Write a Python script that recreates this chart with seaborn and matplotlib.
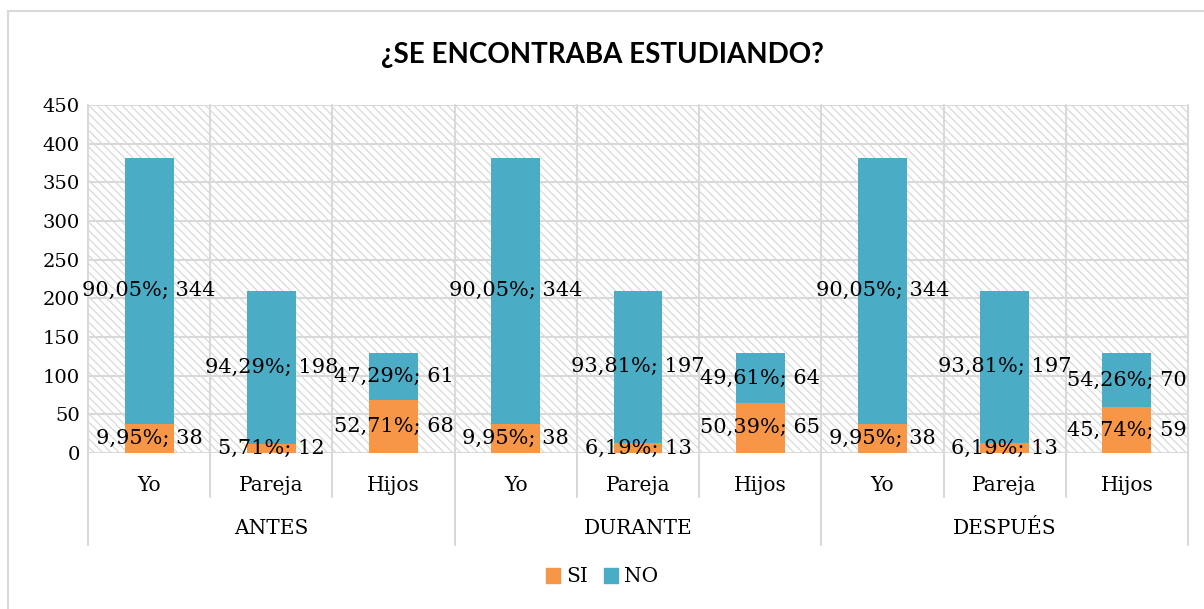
import matplotlib
matplotlib.use("Agg")
import matplotlib.pyplot as plt
import matplotlib.patches as mpatches
import matplotlib.transforms as mtransforms
import seaborn as sns
import pandas as pd

# ---- data ----
groups = ["ANTES", "DURANTE", "DESPUÉS"]
members = ["Yo", "Pareja", "Hijos"]
si_counts = [38, 12, 68, 38, 13, 65, 38, 13, 59]
no_counts = [344, 198, 61, 344, 197, 64, 344, 197, 70]
si_pct = ["9,95%", "5,71%", "52,71%", "9,95%", "6,19%", "50,39%", "9,95%", "6,19%", "45,74%"]
no_pct = ["90,05%", "94,29%", "47,29%", "90,05%", "93,81%", "49,61%", "90,05%", "93,81%", "54,26%"]
title = "¿SE ENCONTRABA ESTUDIANDO?"
series_names = ["SI", "NO"]
yticks = [0, 50, 100, 150, 200, 250, 300, 350, 400, 450]

SI_COLOR = "#F79646"
NO_COLOR = "#4BACC6"
GRID = "#D9D9D9"

sns.set_theme(style="white")
plt.rcParams["font.family"] = ["DejaVu Serif"]
plt.rcParams["text.color"] = "black"
plt.rcParams["ytick.color"] = "black"
plt.rcParams["hatch.linewidth"] = 0.9
plt.rcParams["hatch.color"] = GRID

keys = [f"{g}|{m}" for g in groups for m in members]
df = pd.DataFrame({
    "key": keys,
    "si": si_counts,
    "no": no_counts,
})
df["total"] = df["si"] + df["no"]

fig = plt.figure(figsize=(12.04, 6.09), dpi=100)
ax = fig.add_axes([88 / 1204, 1 - 453 / 609, 1100 / 1204, 348 / 609])

# hatched background
bg = mpatches.Rectangle((0, 0), 1, 1, transform=ax.transAxes, facecolor="white",
                        edgecolor=GRID, hatch="\\\\\\\\", linewidth=0, zorder=0)
ax.add_patch(bg)

sns.barplot(data=df, x="key", y="total", order=keys, color=NO_COLOR, width=0.4,
            saturation=1, linewidth=0, ax=ax, zorder=3)
sns.barplot(data=df, x="key", y="si", order=keys, color=SI_COLOR, width=0.4,
            saturation=1, linewidth=0, ax=ax, zorder=4)

ax.set_ylim(0, 450)
ax.set_xlim(-0.5, len(keys) - 0.5)
ax.set_yticks(yticks)
ax.set_yticklabels([str(v) for v in yticks], fontsize=14)
ax.tick_params(axis="y", length=0, pad=6, colors="black")
ax.set_xticks([])
ax.set_xlabel("")
ax.set_ylabel("")
for s in ax.spines.values():
    s.set_visible(False)
for v in yticks:
    ax.axhline(v, color=GRID, lw=1.5, zorder=1)

# vertical separators
trans = mtransforms.blended_transform_factory(ax.transData, ax.transAxes)
n = len(keys)
for i in range(n + 1):
    x = i - 0.5
    bottom = -0.264 if i % len(members) == 0 else -0.126
    ax.plot([x, x], [1, bottom], transform=trans, color=GRID, lw=1.5,
            clip_on=False, zorder=1)

# category labels
for i, k in enumerate(keys):
    ax.text(i, -0.094, k.split("|")[1], transform=trans, ha="center", va="center",
            fontsize=14.5)
for gi, g in enumerate(groups):
    ax.text(gi * len(members) + 1, -0.218, g, transform=trans, ha="center",
            va="center", fontsize=14.5)

# data labels
for i in range(n):
    s, no = df.loc[i, "si"], df.loc[i, "no"]
    ax.text(i, s / 2, f"{si_pct[i]}; {s}", ha="center", va="center", fontsize=15, zorder=6)
    ax.text(i, s + no / 2, f"{no_pct[i]}; {no}", ha="center", va="center", fontsize=15, zorder=6)

fig.text(0.5, 1 - 55 / 609, title, ha="center", va="center", fontsize=20,
         fontweight="bold", family=["Lato", "DejaVu Sans"])

handles = [mpatches.Patch(color=SI_COLOR, label=series_names[0]),
           mpatches.Patch(color=NO_COLOR, label=series_names[1])]
fig.legend(handles=handles, loc="center", bbox_to_anchor=(0.5, 1 - 577 / 609), ncol=2,
           frameon=False, fontsize=14.5, handlelength=0.7, handleheight=0.7,
           handletextpad=0.3, columnspacing=0.8)

# chart border (left and top edges visible)
fig.patches.append(mpatches.Rectangle((8 / 1204, -0.05), 1.2, 1.05 + (1 - 11 / 609) - 1,
                                      transform=fig.transFigure, fill=False,
                                      edgecolor=GRID, lw=1.5))

fig.savefig("out.png", dpi=100)
